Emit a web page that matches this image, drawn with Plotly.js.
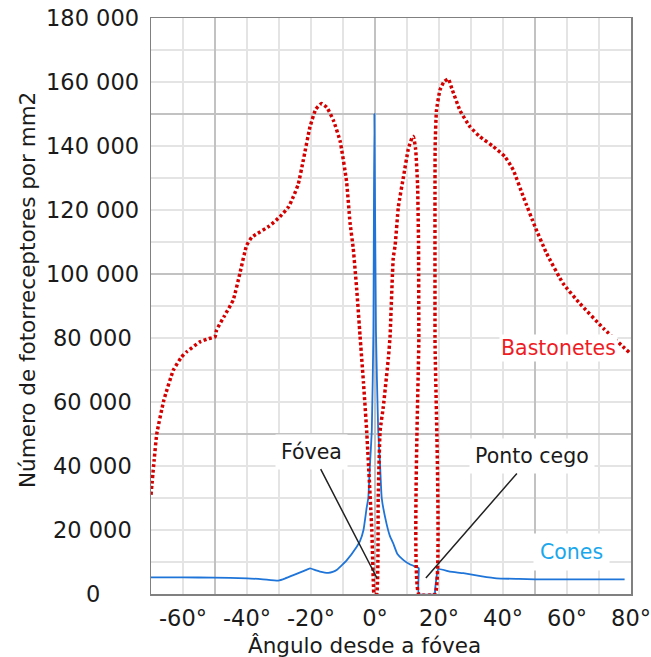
<!DOCTYPE html>
<html>
<head>
<meta charset="utf-8">
<script src="https://cdn.plot.ly/plotly-3.0.1.min.js"></script>
<style>html,body{margin:0;padding:0;background:#fff;}#chart{width:651px;height:657px;}</style>
</head>
<body>
<div id="chart"></div>
<script>
// Bastonetes (rods) density, photoreceptors per mm2
const rodAngles = [-70, -69, -68.2, -66, -63, -60.5, -58.8, -54.7, -52, -50, -49.5, -47, -44.3, -42.2, -40.1, -38.5, -37.5, -33, -29.7, -27, -25.5, -24, -22.4, -20.3, -18.5, -16.7, -15, -13, -10.9, -8.9, -7.8, -6.8, -5.7, -4.7, -3.6, -2.6, -1.0, -0.5, -0.3,
  0.5, 1.0, 1.6, 2.6, 4.2, 4.7, 5.7, 6.3, 7.3, 8.9, 10.4, 11.5, 12.0, 12.7, 13.3, 13.6, 13.7, 13.7, 18.75, 18.75, 18.8, 19.2, 20.3, 21.5, 22.9, 24, 26.6, 29.7, 32.8, 37, 40.6, 43.2, 46.4, 50, 53.6, 58.8, 64, 71.4, 80];
const rodValues = [31000, 42000, 50000, 60500, 70000, 74000, 75700, 78800, 79800, 80400, 82500, 87000, 91900, 100300, 109000, 111500, 112200, 115000, 117900, 121000, 124200, 128000, 135600, 146000, 151500, 153300, 152000, 148000, 141500, 129000, 116000, 108000, 95000, 81000, 66000, 51000, 20000, 3000, 0,
  0, 30000, 51000, 58500, 74000, 80400, 105000, 109000, 121000, 130400, 139000, 142400, 143000, 139000, 128000, 110000, 80000, 0, 0, 80000, 140000, 151000, 157500, 160000, 161000, 158000, 151000, 146000, 142900, 139800, 136700, 132500, 124000, 114800, 106500, 97000, 90800, 83000, 75000];

// Cones density
const coneAngles = [-70, -60, -50.5, -40, -35, -30.2, -28, -25.5, -22, -20.3, -18.5, -17.2, -14.6, -13, -12, -10.9, -8.8, -5.7, -4.7, -3.6, -2.6, -2.1, -1.6, -1.0, -0.5, -0.2, 0.3, 1.0, 1.6, 2.1, 3.6, 4.7, 5.7, 7, 8.9, 11, 13.5, 13.7, 13.7, 18.75, 18.75, 19.8, 23.4, 27.6, 33, 38, 45, 50, 60, 70, 78];
const coneValues = [5200, 5200, 5100, 4900, 4600, 4200, 4900, 5900, 7300, 8000, 7400, 7000, 6600, 7000, 7500, 8500, 10600, 14800, 16500, 20000, 27000, 30000, 40000, 51000, 82000, 150000, 82000, 51000, 40000, 30000, 22000, 18000, 15800, 12500, 10600, 9200, 8200, 8000, 0, 0, 1000, 7800, 7000, 6500, 5600, 4900, 4700, 4600, 4600, 4600, 4600];

// Tick labels
const xTickVals = [-60, -40, -20, 0, 20, 40, 60, 80];
const xTickText = ['-60°', '-40°', '-20°', '0°', '20°', '40°', '60°', '80°'];
const yTickVals = [0, 20000, 40000, 60000, 80000, 100000, 120000, 140000, 160000, 180000];
const yTickText = ['0', '20 000', '40 000', '60 000', '80 000', '100 000', '120 000', '140 000', '160 000', '180 000'];

const FONT = 'DejaVu Sans, Verdana, sans-serif';
const TXT = '#1a1a1a';

const traces = [
  {x: coneAngles, y: coneValues, type: 'scatter', mode: 'lines', name: 'Cones',
   line: {color: '#1e74d8', width: 1.8, shape: 'spline', smoothing: 0.4}, hoverinfo: 'skip'},
  {x: rodAngles, y: rodValues, type: 'scatter', mode: 'lines', name: 'Bastonetes',
   line: {color: '#d40000', width: 3.5, dash: '3px,2.5px', shape: 'spline', smoothing: 0.4}, hoverinfo: 'skip'},
  {x: [], y: [], xaxis: 'x2', yaxis: 'y', type: 'scatter', mode: 'lines', showlegend: false}
];

const annotations = [];
yTickVals.forEach((v, i) => {
  annotations.push({xref: 'paper', yref: 'y', x: (92.5 - 151) / 480, y: v, text: yTickText[i],
    showarrow: false, xanchor: 'center', yanchor: 'middle', font: {family: FONT, size: 22.5, color: TXT}});
});
annotations.push(
  {xref: 'paper', yref: 'paper', x: (27 - 151) / 480, y: (594 - 290) / 576, text: 'Número de fotorreceptores por mm2',
   textangle: -90, showarrow: false, xanchor: 'center', yanchor: 'middle', font: {family: FONT, size: 21.5, color: TXT}},
  {xref: 'paper', yref: 'paper', x: (364 - 151) / 480, y: (594 - 645) / 576, text: 'Ângulo desde a fóvea',
   showarrow: false, xanchor: 'center', yanchor: 'middle', font: {family: FONT, size: 21.5, color: TXT}},
  {xref: 'x', yref: 'y', x: 0.6, y: 5000, axref: 'x', ayref: 'y', ax: -19.8, ay: 44470, text: 'Fóvea',
   showarrow: true, arrowhead: 0, arrowwidth: 1.5, arrowcolor: '#222', bgcolor: '#fff', borderpad: 5,
   font: {family: FONT, size: 20.5, color: TXT}},
  {xref: 'x', yref: 'y', x: 15.9, y: 5000, axref: 'x', ayref: 'y', ax: 49.1, ay: 43125, text: 'Ponto cego',
   showarrow: true, arrowhead: 0, arrowwidth: 1.5, arrowcolor: '#222', bgcolor: '#fff', borderpad: 5,
   font: {family: FONT, size: 20.5, color: TXT}},
  {xref: 'x', yref: 'y', x: 57.3, y: 77030, text: 'Bastonetes', showarrow: false, bgcolor: '#fff', borderpad: 1,
   font: {family: FONT, size: 20.5, color: '#ee1c25'}},
  {xref: 'x', yref: 'y', x: 61.4, y: 13220, text: 'Cones', showarrow: false, bgcolor: '#fff', borderpad: 6,
   font: {family: FONT, size: 20.5, color: '#1aa7ec'}}
);

const layout = {
  width: 651, height: 657,
  margin: {l: 151, r: 20, t: 18, b: 63, pad: 0},
  paper_bgcolor: '#fff', plot_bgcolor: '#fff',
  showlegend: false,
  font: {family: FONT, color: TXT},
  xaxis: {range: [-70, 80], tickvals: [-50, 0, 50], showticklabels: false, ticks: '',
    showgrid: true, gridcolor: '#c2c2c2', gridwidth: 1.5, zeroline: false,
    minor: {tick0: 0, dtick: 10, showgrid: true, gridcolor: '#e4e4e4', gridwidth: 1.5, ticks: ''},
    showline: true, mirror: true, linecolor: '#808080', linewidth: 1.5},
  xaxis2: {range: [-70, 80], overlaying: 'x', anchor: 'y', side: 'bottom', tickmode: 'array',
    tickvals: xTickVals, ticktext: xTickText, showgrid: false, zeroline: false, showline: false, ticks: '',
    ticklabelstandoff: 8, tickfont: {family: FONT, size: 22.5, color: TXT}},
  yaxis: {range: [0, 180000], tickvals: [0, 50000, 100000, 150000], showticklabels: false, ticks: '',
    showgrid: true, gridcolor: '#c2c2c2', gridwidth: 1.5, zeroline: false,
    minor: {tick0: 0, dtick: 10000, showgrid: true, gridcolor: '#e4e4e4', gridwidth: 1.5, ticks: ''},
    showline: true, mirror: true, linecolor: '#808080', linewidth: 1.5},
  annotations: annotations
};

Plotly.newPlot('chart', traces, layout, {staticPlot: true, displayModeBar: false});
</script>
</body>
</html>
